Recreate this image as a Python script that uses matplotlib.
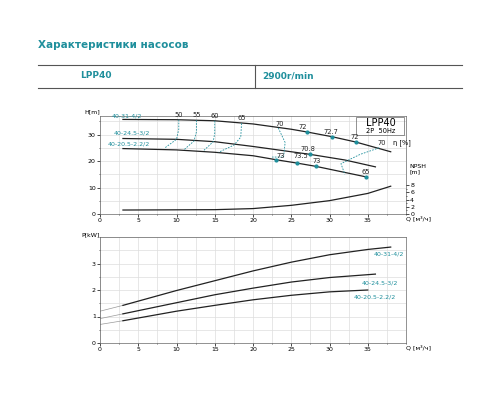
import matplotlib
matplotlib.use("Agg")
import matplotlib.pyplot as plt
import numpy as np

TEAL = "#1f8f9c"
# Head curves
q_h1 = [3, 10, 15, 20, 25, 27, 30.3, 33.4, 38]
h1 = [35.7, 35.6, 35.2, 34.0, 32.0, 31.0, 29.2, 27.2, 23.5]
q_h2 = [3, 10, 15, 20, 27.5, 32, 36]
h2 = [28.5, 28.2, 27.3, 25.5, 22.5, 20.4, 17.8]
q_h3 = [3, 10, 15, 20, 23, 25.8, 28.2, 34.8]
h3 = [24.7, 24.2, 23.3, 22.0, 20.5, 19.2, 18.0, 14.0]
# NPSH
q_npsh = [3, 15, 20, 25, 30, 35, 38]
npsh = [1.1, 1.2, 1.5, 2.4, 3.7, 5.7, 7.7]
# Efficiency iso lines (Q, H)
eff_lines = [
    ([10.3, 10.3, 10.0, 8.5], [35.6, 32, 28.2, 25.0]),
    ([12.6, 12.6, 12.3, 11.0], [35.4, 31, 27.6, 24.3]),
    ([15.0, 15.0, 14.8, 13.5], [35.2, 30.5, 27.3, 23.8]),
    ([18.5, 18.4, 17.5, 15.5], [34.2, 29.0, 26.0, 23.3]),
    ([23.3, 24.2, 24.0, 22.5], [32.5, 27.0, 21.5, 21.5]),
    ([36.5, 34.0, 31.5, 32.0], [25.0, 22.5, 19.0, 15.0]),
]
pts_q = [27, 30.3, 33.4, 27.5, 23, 25.8, 28.2, 34.8]
pts_h = [31.0, 29.2, 27.2, 22.5, 20.5, 19.2, 18.0, 14.0]
eff_labels = ["50", "55", "60", "65", "70", "72", "72.7", "72", "70", "70.8", "73", "73.5", "73", "65"]
eff_lq = [10.3, 12.6, 15.0, 18.5, 23.5, 26.5, 30.2, 33.3, 36.8, 27.2, 23.6, 26.3, 28.3, 34.8]
eff_lh = [36.4, 36.4, 35.8, 35.0, 33.0, 31.8, 30.0, 28.0, 25.8, 23.3, 20.9, 20.9, 18.8, 14.8]
names = ["40-31-4/2", "40-24.5-3/2", "40-20.5-2.2/2"]
name_q = [1.5, 1.8, 1.0]
name_h = [36.0, 29.6, 25.3]
# Power curves
q_p1 = [0, 3, 10, 15, 20, 25, 30, 35, 38]
p1 = [1.2, 1.42, 1.98, 2.35, 2.72, 3.05, 3.33, 3.53, 3.62]
q_p2 = [0, 3, 10, 15, 20, 25, 30, 36]
p2 = [0.92, 1.1, 1.52, 1.82, 2.07, 2.3, 2.47, 2.6]
q_p3 = [0, 3, 10, 15, 20, 25, 30, 35]
p3 = [0.7, 0.84, 1.2, 1.42, 1.63, 1.8, 1.93, 2.0]
pname_q = [35.8, 34.2, 33.2]
pname_p = [3.45, 2.35, 1.83]

fig = plt.figure(figsize=(5, 4), dpi=100)
fig.text(0.076, 0.887, "Характеристики насосов", color=TEAL, fontsize=7.5, fontweight="bold", va="center")
for y in [65, 88]:
    fig.add_artist(plt.Line2D([0.076, 0.924], [1 - y / 400] * 2, color="#555", lw=0.8))
fig.add_artist(plt.Line2D([0.51, 0.51], [1 - 65 / 400, 1 - 88 / 400], color="#555", lw=0.8))
fig.text(0.16, 1 - 76 / 400, "LPP40", color=TEAL, fontsize=6.5, fontweight="bold", va="center")
fig.text(0.525, 1 - 76 / 400, "2900r/min", color=TEAL, fontsize=6.5, fontweight="bold", va="center")

def style(ax, ymax, ymajor, yminor):
    ax.set_xlim(0, 40)
    ax.set_ylim(0, ymax)
    ax.set_xticks(np.arange(0, 40, 5))
    ax.set_xticks(np.arange(0, 40.1, 2.5), minor=True)
    ax.set_yticks(ymajor)
    ax.set_yticks(yminor, minor=True)
    ax.grid(True, which="both", color="#dddddd", lw=0.5)
    ax.tick_params(labelsize=4.5, length=2, width=0.5, pad=1)
    ax.tick_params(which="minor", length=1, width=0.4)
    for s in ax.spines.values():
        s.set_linewidth(0.5)
        s.set_color("#666")
    ax.set_axisbelow(True)

ax1 = fig.add_axes([0.2, 0.465, 0.612, 0.245])
style(ax1, 37, [0, 10, 20, 30], np.arange(0, 37, 5))
for q, h in [(q_h1, h1), (q_h2, h2), (q_h3, h3)]:
    ax1.plot(q, h, color="#222", lw=0.9)
for q, h in eff_lines:
    ax1.plot(q, h, color=TEAL, lw=0.6, ls=(0, (2, 1.5)))
ax1.plot(pts_q, pts_h, "o", color=TEAL, ms=2)
for t, q, h in zip(eff_labels, eff_lq, eff_lh):
    ax1.text(q, h, t, fontsize=4.8, ha="center", va="bottom", color="#222")
ax1.text(38.3, 25.8, "η [%]", fontsize=4.8, va="bottom")
for t, q, h in zip(names, name_q, name_h):
    ax1.text(q, h, t, fontsize=4.5, color=TEAL, va="bottom")
ax1.text(36.7, 34.3, "LPP40", fontsize=7, ha="center", va="center")
ax1.text(36.7, 31.4, "2P  50Hz", fontsize=4.8, ha="center", va="center")
ax1.add_patch(plt.Rectangle((33.5, 30.0), 6.3, 6.6, fill=False, lw=0.5, ec="#666"))
ax1.text(0, 1.02, "H[m]", transform=ax1.transAxes, fontsize=4.5, ha="right", va="bottom")
ax1.text(1.0, -0.02, "Q [м³/ч]", transform=ax1.transAxes, fontsize=4.5, ha="left", va="top")
axn = ax1.twinx()
axn.set_ylim(0, 37 * 8 / 10.9)
axn.plot(q_npsh, npsh, color="#222", lw=0.9)
axn.set_yticks([0, 2, 4, 6, 8])
axn.set_yticks(np.arange(0, 9, 1), minor=True)
axn.tick_params(labelsize=4.5, length=2, width=0.5, pad=1)
axn.tick_params(which="minor", length=1, width=0.4)
for s in axn.spines.values():
    s.set_visible(False)
axn.text(1.01, 0.46, "NPSH\n[m]", transform=ax1.transAxes, fontsize=4.5, ha="left", va="center", linespacing=1.0)

ax2 = fig.add_axes([0.2, 0.1425, 0.612, 0.265])
style(ax2, 4, [0, 1, 2, 3], np.arange(0, 4.01, 0.5))
for q, p in [(q_p1, p1), (q_p2, p2), (q_p3, p3)]:
    ax2.plot(q[:2], p[:2], color="#999", lw=0.5)
    ax2.plot(q[1:], p[1:], color="#222", lw=0.9)
for t, q, p in zip(names, pname_q, pname_p):
    ax2.text(q, p, t, fontsize=4.5, color=TEAL, va="top")
ax2.text(0, 1.0, "P[kW]", transform=ax2.transAxes, fontsize=4.5, ha="right", va="bottom")
ax2.text(1.0, -0.02, "Q [м³/ч]", transform=ax2.transAxes, fontsize=4.5, ha="left", va="top")

fig.savefig("out.png", dpi=100, facecolor="white")
